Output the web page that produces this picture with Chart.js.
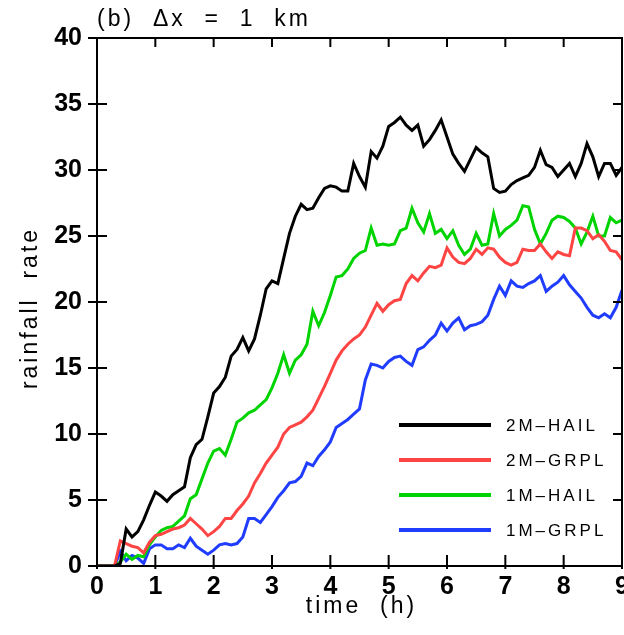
<!DOCTYPE html>
<html>
<head>
<meta charset="utf-8">
<script src="https://cdn.jsdelivr.net/npm/chart.js@4.4.0/dist/chart.umd.min.js"></script>
<style>
  body { margin: 0; background: #fff; }
  canvas { display: block; }
</style>
</head>
<body>
<canvas id="rain" width="624" height="635"></canvas>
<script>
// time axis (h), sampled every 6 minutes
var hours = [
  0.0, 0.1, 0.2, 0.3, 0.4, 0.5, 0.6, 0.7, 0.8, 0.9,
  1.0, 1.1, 1.2, 1.3, 1.4, 1.5, 1.6, 1.7, 1.8, 1.9,
  2.0, 2.1, 2.2, 2.3, 2.4, 2.5, 2.6, 2.7, 2.8, 2.9,
  3.0, 3.1, 3.2, 3.3, 3.4, 3.5, 3.6, 3.7, 3.8, 3.9,
  4.0, 4.1, 4.2, 4.3, 4.4, 4.5, 4.6, 4.7, 4.8, 4.9,
  5.0, 5.1, 5.2, 5.3, 5.4, 5.5, 5.6, 5.7, 5.8, 5.9,
  6.0, 6.1, 6.2, 6.3, 6.4, 6.5, 6.6, 6.7, 6.8, 6.9,
  7.0, 7.1, 7.2, 7.3, 7.4, 7.5, 7.6, 7.7, 7.8, 7.9,
  8.0, 8.1, 8.2, 8.3, 8.4, 8.5, 8.6, 8.7, 8.8, 8.9,
  9.0
];

var hail2m = [
  0, 0, 0, 0, 0.2, 2.8, 2.2, 2.6, 3.5, 4.6,
  5.6, 5.3, 4.9, 5.4, 5.7, 6.0, 8.2, 9.2, 9.6, 11.3,
  13.1, 13.6, 14.3, 15.9, 16.4, 17.3, 16.3, 17.2, 19.0, 21.0,
  21.6, 21.4, 23.3, 25.2, 26.5, 27.4, 27.0, 27.1, 27.9, 28.6,
  28.8, 28.7, 28.4, 28.4, 30.5, 29.5, 28.7, 31.4, 30.9, 31.8,
  33.3, 33.6, 34.0, 33.4, 33.0, 33.4, 31.8, 32.3, 33.0, 33.8,
  32.5, 31.2, 30.5, 29.9, 30.8, 31.7, 31.3, 31.0, 28.6, 28.3,
  28.4, 28.9, 29.2, 29.4, 29.6, 30.2, 31.5, 30.4, 30.2, 29.5,
  30.0, 30.5, 29.5, 30.5, 32.0, 31.0, 29.5, 30.5, 30.5, 29.6,
  30.2
];

var grpl2m = [
  0, 0, 0, 0, 1.9, 1.7, 1.5, 1.4, 1.0, 1.8,
  2.3, 2.4, 2.6, 2.8, 2.9, 3.1, 3.6, 3.2, 2.8, 2.3,
  2.6, 3.0, 3.6, 3.6, 4.2, 4.7, 5.3, 6.3, 7.0, 7.8,
  8.4, 9.0, 10.0, 10.5, 10.7, 10.9, 11.3, 11.8, 12.7, 13.6,
  14.6, 15.6, 16.3, 16.8, 17.2, 17.5, 18.1, 19.0, 19.9, 19.3,
  19.8, 20.1, 20.2, 21.4, 22.0, 21.6, 22.2, 22.7, 22.6, 22.8,
  24.1, 23.4, 23.0, 22.9, 23.3, 24.0, 23.6, 24.1, 24.0, 23.4,
  23.0, 22.8, 23.0, 24.0, 23.9, 23.9, 24.4, 23.8, 23.3, 23.8,
  23.6, 23.5, 25.6, 25.6, 25.4, 24.8, 25.1, 24.6, 23.9, 23.8,
  23.2
];

var hail1m = [
  0, 0, 0, 0, 0.3, 0.9, 0.5, 0.8, 0.7, 1.6,
  2.2, 2.7, 2.9, 3.0, 3.4, 3.8, 5.1, 5.4, 6.6, 7.8,
  8.7, 8.9, 8.4, 9.6, 10.9, 11.2, 11.6, 11.8, 12.2, 12.6,
  13.5, 14.6, 16.0, 14.6, 15.6, 16.0, 16.8, 19.3, 18.2, 19.2,
  20.5, 21.9, 22.0, 22.5, 23.3, 23.7, 23.9, 25.6, 24.3, 24.4,
  24.3, 24.4, 25.4, 25.6, 27.1, 26.0, 25.3, 26.7, 25.2, 25.5,
  24.8, 25.4, 24.3, 23.6, 24.0, 25.2, 24.3, 24.4, 26.7, 25.0,
  25.5, 25.8, 26.2, 27.3, 27.2, 25.5, 24.4, 25.2, 26.2, 26.5,
  26.4, 26.1, 25.6, 24.4, 25.3, 26.5, 25.0, 25.0, 26.4, 26.0,
  26.2
];

var grpl1m = [
  0, 0, 0, 0, 1.1, 0.4, 0.8, 0.6, 0.2, 1.3,
  1.6, 1.6, 1.3, 1.3, 1.6, 1.4, 2.1, 1.5, 1.2, 0.9,
  1.2, 1.6, 1.7, 1.6, 1.7, 2.2, 3.6, 3.6, 3.3, 3.9,
  4.5, 5.2, 5.7, 6.3, 6.4, 6.8, 7.8, 7.6, 8.3, 8.8,
  9.4, 10.5, 10.8, 11.1, 11.5, 11.9, 14.1, 15.3, 15.2, 15.0,
  15.5, 15.8, 15.9, 15.5, 15.2, 16.4, 16.6, 17.1, 17.5, 18.4,
  17.8, 18.4, 18.8, 17.9, 18.2, 18.3, 18.5, 19.0, 20.2, 21.2,
  20.5, 21.6, 21.2, 21.1, 21.4, 21.6, 22.0, 20.8, 21.2, 21.5,
  22.0, 21.3, 20.8, 20.3, 19.6, 19.0, 18.8, 19.1, 18.8, 19.6,
  20.9
];

var xTicks = [0, 1, 2, 3, 4, 5, 6, 7, 8, 9];
var yTicks = [0, 5, 10, 15, 20, 25, 30, 35, 40];

function pts(vals) {
  return hours.map(function (h, i) { return { x: h, y: vals[i] }; });
}

function series(label, vals, color) {
  return {
    label: label,
    data: pts(vals),
    borderColor: color,
    borderWidth: 3,
    pointRadius: 0,
    tension: 0,
    fill: false
  };
}

var sans = "'Liberation Sans', Arial, sans-serif";

// frame with crossing ticks, labels, titles and the in-plot key
var decor = {
  id: 'decor',
  afterDraw: function (chart) {
    var c = chart.ctx, a = chart.chartArea;
    var xs = chart.scales.x, ys = chart.scales.y;
    c.save();
    c.strokeStyle = '#000';
    c.fillStyle = '#000';
    c.lineWidth = 2;
    c.strokeRect(a.left, a.top, a.right - a.left, a.bottom - a.top);

    c.beginPath();
    xTicks.forEach(function (v) {
      var px = xs.getPixelForValue(v);
      c.moveTo(px, a.bottom + 3); c.lineTo(px, a.bottom - 11);
      c.moveTo(px, a.top); c.lineTo(px, a.top + 9);
    });
    yTicks.forEach(function (v) {
      var py = ys.getPixelForValue(v);
      c.moveTo(a.left - 9, py); c.lineTo(a.left + 10, py);
      c.moveTo(a.right - 9, py); c.lineTo(a.right, py);
    });
    c.stroke();

    c.font = 'bold 25px ' + sans;
    c.textBaseline = 'middle';
    c.textAlign = 'center';
    xTicks.forEach(function (v) {
      c.fillText(String(v), xs.getPixelForValue(v), a.bottom + 21);
    });
    c.textAlign = 'right';
    yTicks.forEach(function (v) {
      c.fillText(String(v), a.left - 15, ys.getPixelForValue(v));
    });

    c.font = '23px ' + sans;
    c.letterSpacing = '3px';
    c.textAlign = 'left';
    c.fillText('(b)  \u0394x  =  1  km', a.left, 20);

    c.textAlign = 'center';
    c.fillText('time  (h)', (a.left + a.right) / 2 + 2, 607);
    c.save();
    c.translate(31, 308);
    c.rotate(-Math.PI / 2);
    c.fillText('rainfall  rate', 0, 0);
    c.restore();

    c.font = '17px ' + sans;
    c.letterSpacing = '3px';
    c.textAlign = 'left';
    chart.data.datasets.forEach(function (ds, i) {
      var y = 425 + i * 35;
      c.strokeStyle = ds.borderColor;
      c.lineWidth = 4;
      c.beginPath();
      c.moveTo(399, y); c.lineTo(491, y);
      c.stroke();
      c.fillText(ds.label, 506, y + 1);
    });
    c.restore();
  }
};

var ctx = document.getElementById('rain').getContext('2d');
var rainChart = new Chart(ctx, {
  type: 'line',
  data: {
    datasets: [
      series('2M\u2013HAIL', hail2m, '#000000'),
      series('2M\u2013GRPL', grpl2m, '#ff4444'),
      series('1M\u2013HAIL', hail1m, '#00d400'),
      series('1M\u2013GRPL', grpl1m, '#1f3cff')
    ]
  },
  options: {
    responsive: false,
    animation: false,
    layout: { padding: { left: 97, right: 2, top: 38, bottom: 69 } },
    plugins: { legend: { display: false }, tooltip: { enabled: false } },
    scales: {
      x: { type: 'linear', min: 0, max: 9, display: false },
      y: { min: 0, max: 40, display: false }
    }
  },
  plugins: [decor]
});
</script>
</body>
</html>
